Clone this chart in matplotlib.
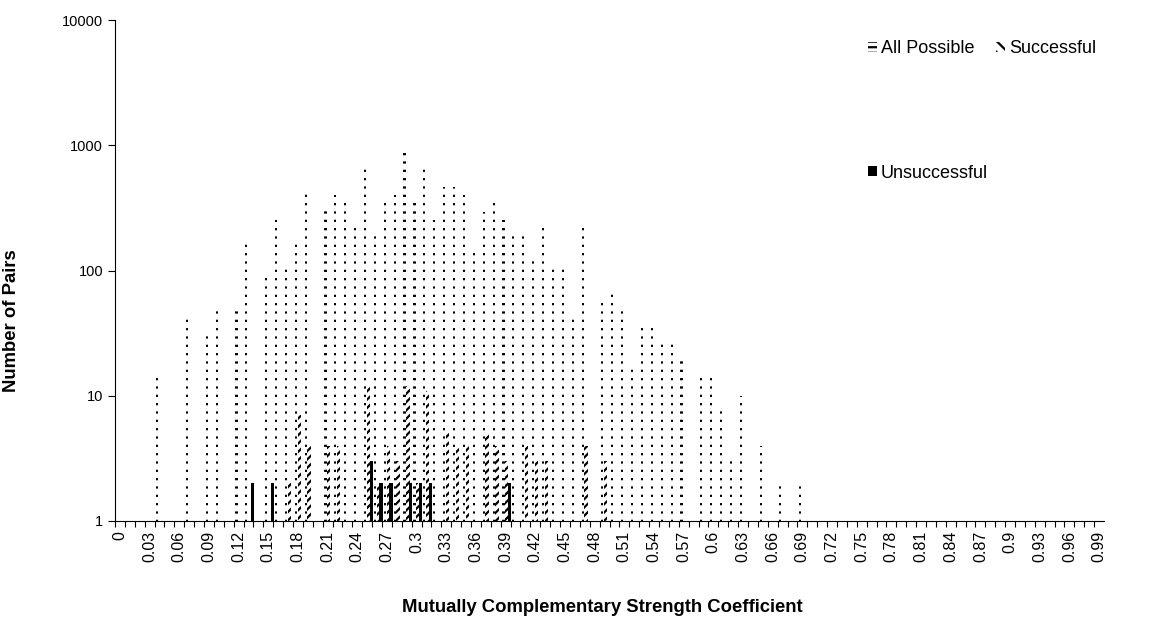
import numpy as np
import matplotlib.pyplot as plt
from matplotlib.patches import Patch

plt.rcParams['font.family'] = ['Liberation Sans', 'DejaVu Sans']
plt.rcParams['hatch.linewidth'] = 1.6

# coefficient categories 0.00 .. 0.99
coef = np.arange(100)

# number of pairs per coefficient bin (log scale)
all_possible = [
    0, 0, 0, 0, 14, 0, 0, 45, 0, 33,              # 0.00-0.09
    50, 0, 52, 165, 0, 90, 255, 106, 165, 450,    # 0.10-0.19
    0, 300, 400, 345, 218, 710, 187, 380, 400, 975,  # 0.20-0.29
    345, 708, 253, 465, 465, 400, 140, 295, 345, 253,  # 0.30-0.39
    190, 190, 123, 220, 106, 106, 44, 218, 0, 58,  # 0.40-0.49
    67, 49, 18, 38, 38, 28, 28, 20, 0, 15,        # 0.50-0.59
    15, 8, 3, 10, 0, 4, 0, 2, 0, 2,               # 0.60-0.69
] + [0] * 30

successful = [
    0, 0, 0, 0, 0, 0, 0, 0, 0, 0,
    0, 0, 0, 0, 0, 0, 0, 2, 7, 4,
    0, 4, 4, 0, 0, 12, 2, 4, 3, 12,
    2, 11, 0, 5, 4, 4, 0, 5, 4, 3,
    0, 4, 3, 3, 0, 0, 0, 4, 0, 3,
] + [0] * 50

unsuccessful = [
    0, 0, 0, 0, 0, 0, 0, 0, 0, 0,
    0, 0, 0, 2, 0, 2, 0, 0, 0, 0,
    0, 0, 0, 0, 0, 3, 2, 2, 0, 2,
    2, 2, 0, 0, 0, 0, 0, 0, 0, 2,
] + [0] * 60

xtick_labels = ['0', '0.03', '0.06', '0.09', '0.12', '0.15', '0.18', '0.21',
                '0.24', '0.27', '0.3', '0.33', '0.36', '0.39', '0.42', '0.45',
                '0.48', '0.51', '0.54', '0.57', '0.6', '0.63', '0.66', '0.69',
                '0.72', '0.75', '0.78', '0.81', '0.84', '0.87', '0.9', '0.93',
                '0.96', '0.99']

fig = plt.figure(figsize=(11.72, 6.26), dpi=100)
ax = fig.add_axes([115 / 1172, 105 / 626, 989 / 1172, 501 / 626])


def draw(vals, offset, width, **kw):
    vals = np.array(vals, dtype=float)
    m = vals > 0
    ax.bar(coef[m] + offset, vals[m], width=width, linewidth=0, **kw)


draw(all_possible, -0.22, 0.22, facecolor='none', edgecolor='black', hatch='--')
draw(successful, 0.12, 0.32, facecolor='white', edgecolor='black', hatch='////')
draw(unsuccessful, 0.4, 0.32, facecolor='black', edgecolor='black')

ax.set_yscale('log')
ax.set_ylim(1, 10000)
ax.set_yticks([1, 10, 100, 1000, 10000])
ax.set_yticklabels(['1', '10', '100', '1000', '10000'])
ax.yaxis.set_minor_locator(plt.NullLocator())
ax.set_xlim(-0.5, 99.5)

ax.set_xticks(coef[::3])
ax.set_xticklabels(xtick_labels, rotation=90)
ax.set_xticks(coef - 0.5, minor=True)
ax.tick_params(axis='x', which='major', length=0, pad=7, labelsize=11.5)
ax.tick_params(axis='x', which='minor', length=4, width=0.8)
ax.tick_params(axis='y', length=5, labelsize=10.5)

for s in ['top', 'right']:
    ax.spines[s].set_visible(False)

ax.set_xlabel('Mutually Complementary Strength Coefficient',
              fontweight='bold', fontsize=13.3)
ax.xaxis.set_label_coords(0.493, -0.156)
ax.set_ylabel('Number of Pairs', fontweight='bold', fontsize=13.3)
ax.yaxis.set_label_coords(-0.096, 0.4)

handles = [
    Patch(facecolor='white', edgecolor='black', linewidth=0, hatch='---', label='All Possible'),
    Patch(facecolor='black', edgecolor='black', linewidth=0, label='Unsuccessful'),
    Patch(facecolor='white', edgecolor='black', linewidth=0, hatch='\\\\\\', label='Successful'),
]
fig.legend(handles=handles, loc='upper left', bbox_to_anchor=(852 / 1172, 1 - 24 / 626),
           ncol=2, frameon=False, fontsize=13, handlelength=0.5, handleheight=0.45,
           handletextpad=0.2, columnspacing=0.45, labelspacing=5.95)

fig.savefig('out.png', dpi=100)
